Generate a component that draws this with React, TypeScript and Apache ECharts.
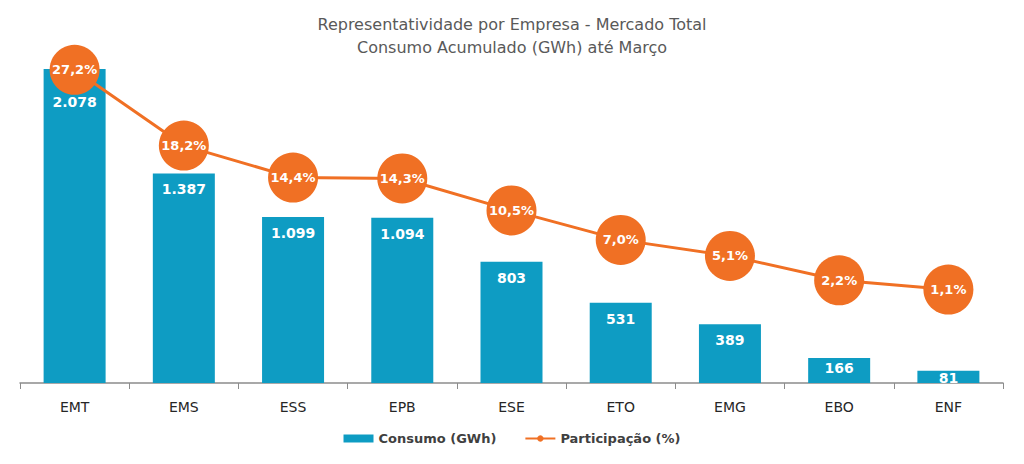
import React, { useEffect, useRef } from "react";
import * as echarts from "echarts";

const categories = ["EMT", "EMS", "ESS", "EPB", "ESE", "ETO", "EMG", "EBO", "ENF"];
const consumo = [2078, 1387, 1099, 1094, 803, 531, 389, 166, 81];
const participacao = [27.2, 18.2, 14.4, 14.3, 10.5, 7.0, 5.1, 2.2, 1.1];
const labelDistances = [26, 9, 9, 9, 9, 9, 9, 3, 0];

const FONT = "'DejaVu Sans', sans-serif";
const BLUE = "#0e9cc3";
const ORANGE = "#f07024";

const fmtThousand = (v: number) => v.toString().replace(/\B(?=(\d{3})+(?!\d))/g, ".");
const fmtPct = (v: number) => v.toFixed(1).replace(".", ",") + "%";

export default function App() {
  const ref = useRef<HTMLDivElement>(null);
  useEffect(() => {
    if (!ref.current) return;
    const chart = echarts.init(ref.current, undefined, { renderer: "svg" });
    chart.setOption({
      animation: false,
      backgroundColor: "#ffffff",
      title: {
        text: "Representatividade por Empresa - Mercado Total\nConsumo Acumulado (GWh) até Março",
        left: "center",
        top: 8,
        textStyle: {
          fontFamily: FONT,
          fontSize: 16,
          fontWeight: "normal",
          color: "#595959",
          lineHeight: 23,
        },
      },
      legend: {
        bottom: 14,
        left: "center",
        itemGap: 28,
        itemWidth: 30,
        itemHeight: 8,
        textStyle: { fontFamily: FONT, fontSize: 13, fontWeight: "bold", color: "#404040" },
        data: [
          { name: "Consumo (GWh)", icon: "rect" },
          { name: "Participação (%)" },
        ],
      },
      grid: { left: 20, right: 21, top: 69, bottom: 81, containLabel: false },
      xAxis: {
        type: "category",
        data: categories,
        axisLine: { lineStyle: { color: "#8c8c8c", width: 1.5 } },
        axisTick: { show: true, alignWithLabel: false, length: 6, lineStyle: { color: "#8c8c8c" } },
        axisLabel: { fontFamily: FONT, fontSize: 14, color: "#262626", margin: 17 },
      },
      yAxis: [
        { type: "value", min: 0, max: 2078, show: false, splitLine: { show: false } },
        { type: "value", min: -10, max: 27.3, show: false, splitLine: { show: false } },
      ],
      series: [
        {
          name: "Consumo (GWh)",
          type: "bar",
          yAxisIndex: 0,
          barWidth: 62,
          itemStyle: { color: BLUE },
          data: consumo.map((v, i) => ({
            value: v,
            label: {
              show: true,
              position: "insideTop",
              distance: labelDistances[i],
              formatter: () => fmtThousand(v),
              fontFamily: FONT,
              fontSize: 14,
              fontWeight: "bold",
              color: "#ffffff",
            },
          })),
          z: 1,
        },
        {
          name: "Participação (%)",
          type: "line",
          yAxisIndex: 1,
          symbol: "circle",
          symbolSize: 50,
          lineStyle: { color: ORANGE, width: 3 },
          itemStyle: { color: ORANGE },
          label: {
            show: true,
            position: "inside",
            formatter: (p: any) => fmtPct(p.value),
            fontFamily: FONT,
            fontSize: 13,
            fontWeight: "bold",
            color: "#ffffff",
          },
          data: participacao,
          z: 3,
        },
      ],
    });
    return () => chart.dispose();
  }, []);
  return <div ref={ref} style={{ width: 1024, height: 464, position: "absolute", left: 0, top: 0 }} />;
}
